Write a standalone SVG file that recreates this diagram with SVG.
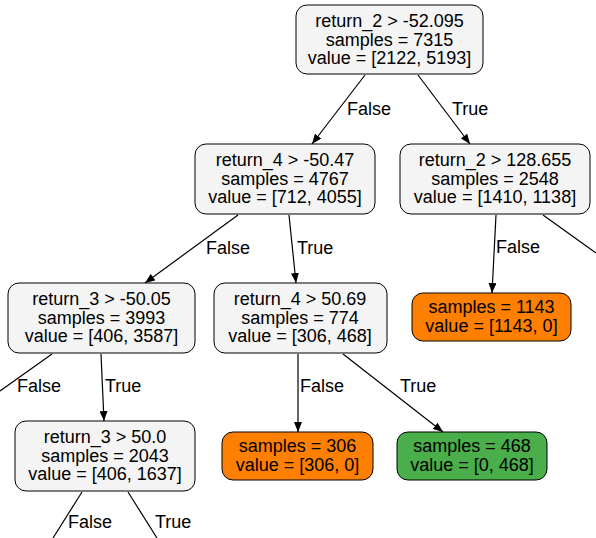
<svg xmlns="http://www.w3.org/2000/svg" width="596" height="538" viewBox="0 0 596 538">
<style>
text{font-family:"Liberation Sans",Arial,Helvetica,sans-serif;font-size:18px;fill:#000}
.n text{text-anchor:middle}
rect{stroke:#000;stroke-width:1}
.g{fill:#f4f4f4}
.o{fill:#ff8000}
.gr{fill:#4aae4a}
.e line{stroke:#000;stroke-width:1.2}
</style>
<defs>
<marker id="ah" viewBox="0 0 10 8" refX="10" refY="4" markerWidth="10" markerHeight="8" markerUnits="userSpaceOnUse" orient="auto">
<path d="M0,0 L10,4 L0,8 z" fill="#000"/>
</marker>
</defs>
<g id="edges" class="e">
<line x1="365" y1="75" x2="312" y2="144" marker-end="url(#ah)"/>
<line x1="418" y1="75" x2="470" y2="144" marker-end="url(#ah)"/>
<line x1="238" y1="215" x2="145" y2="283" marker-end="url(#ah)"/>
<line x1="289" y1="215" x2="296" y2="283" marker-end="url(#ah)"/>
<line x1="496" y1="215" x2="492" y2="293" marker-end="url(#ah)"/>
<line x1="543" y1="215" x2="596" y2="253"/>
<line x1="52" y1="354" x2="0" y2="391"/>
<line x1="101" y1="354" x2="104" y2="421" marker-end="url(#ah)"/>
<line x1="298" y1="354" x2="298" y2="432" marker-end="url(#ah)"/>
<line x1="343" y1="354" x2="443" y2="432" marker-end="url(#ah)"/>
<line x1="82" y1="492" x2="53" y2="538"/>
<line x1="128" y1="492" x2="157" y2="538"/>
<text x="347" y="115">False</text>
<text x="452" y="115">True</text>
<text x="206" y="254">False</text>
<text x="297" y="254">True</text>
<text x="496" y="253">False</text>
<text x="17" y="392">False</text>
<text x="105" y="392">True</text>
<text x="300" y="392">False</text>
<text x="400" y="392">True</text>
<text x="68" y="528">False</text>
<text x="155" y="528">True</text>
</g>
<g id="n0" class="n">
<rect class="g" x="296" y="5" width="187" height="69" rx="11"/>
<text x="389.5" y="27">return_2 &gt; -52.095</text>
<text x="389.5" y="45.5">samples = 7315</text>
<text x="389.5" y="64">value = [2122, 5193]</text>
</g>
<g id="n1" class="n">
<rect class="g" x="195" y="144" width="180" height="70" rx="11"/>
<text x="285" y="166">return_4 &gt; -50.47</text>
<text x="285" y="184.5">samples = 4767</text>
<text x="285" y="203">value = [712, 4055]</text>
</g>
<g id="n2" class="n">
<rect class="g" x="400" y="144" width="190" height="70" rx="11"/>
<text x="495" y="166">return_2 &gt; 128.655</text>
<text x="495" y="184.5">samples = 2548</text>
<text x="495" y="203">value = [1410, 1138]</text>
</g>
<g id="n3" class="n">
<rect class="g" x="8" y="283" width="187" height="70" rx="11"/>
<text x="101.5" y="305">return_3 &gt; -50.05</text>
<text x="101.5" y="323.5">samples = 3993</text>
<text x="101.5" y="342">value = [406, 3587]</text>
</g>
<g id="n4" class="n">
<rect class="g" x="214" y="283" width="173" height="70" rx="11"/>
<text x="300" y="305">return_4 &gt; 50.69</text>
<text x="300" y="323.5">samples = 774</text>
<text x="300" y="342">value = [306, 468]</text>
</g>
<g id="n5" class="n">
<rect class="o" x="412" y="293" width="159" height="48" rx="11"/>
<text x="491.5" y="313">samples = 1143</text>
<text x="491.5" y="331.5">value = [1143, 0]</text>
</g>
<g id="n6" class="n">
<rect class="g" x="15" y="421" width="180" height="70" rx="11"/>
<text x="105" y="443">return_3 &gt; 50.0</text>
<text x="105" y="461.5">samples = 2043</text>
<text x="105" y="480">value = [406, 1637]</text>
</g>
<g id="n7" class="n">
<rect class="o" x="222" y="432" width="151" height="48" rx="11"/>
<text x="297.5" y="452">samples = 306</text>
<text x="297.5" y="470.5">value = [306, 0]</text>
</g>
<g id="n8" class="n">
<rect class="gr" x="397" y="432" width="150" height="48" rx="11"/>
<text x="472" y="452">samples = 468</text>
<text x="472" y="470.5">value = [0, 468]</text>
</g>
</svg>
